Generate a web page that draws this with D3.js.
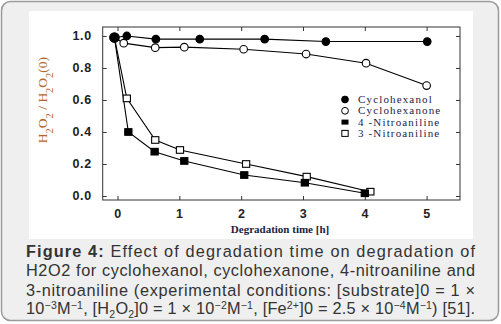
<!DOCTYPE html>
<html>
<head>
<meta charset="utf-8">
<script src="https://cdn.jsdelivr.net/npm/d3@7"></script>
<style>
    html, body { margin: 0; padding: 0; background: #fff; }
    svg { display: block; }
</style>
</head>
<body>
<div id="chart"></div>
<script>
// values (time in h, H2O2/H2O2(0))
var cyclohexanolT = [-0.05, 0.15, 0.62, 1.33, 2.38, 3.37, 5.01]
var cyclohexanolV = [0.99, 1.0, 0.98, 0.98, 0.98, 0.965, 0.965]
var cyclohexanoneT = [-0.05, 0.1, 0.61, 1.08, 2.04, 3.05, 4.02, 5.0]
var cyclohexanoneV = [0.99, 0.955, 0.927, 0.93, 0.917, 0.887, 0.83, 0.69]
var nitro4T = [-0.05, 0.175, 0.6, 1.08, 2.05, 3.03, 4.0]
var nitro4V = [0.99, 0.40, 0.277, 0.219, 0.131, 0.083, 0.017]
var nitro3T = [-0.05, 0.15, 0.61, 1.01, 2.08, 3.06, 4.09]
var nitro3V = [0.99, 0.61, 0.35, 0.2875, 0.2, 0.121, 0.027]
var seriesNames = ['Cyclohexanol', 'Cyclohexanone', '4-Nitroaniline', '3-Nitroaniline']
var xTicks = [0, 1, 2, 3, 4, 5]
var yTicks = [0.0, 0.2, 0.4, 0.6, 0.8, 1.0]

var W = 501, H = 324
var svg = d3.select('#chart').append('svg').attr('width', W).attr('height', H)

// frame
svg.append('rect').attr('x', 1.5).attr('y', 1.5).attr('width', W - 4).attr('height', H - 5)
    .attr('rx', 9).attr('fill', '#efefef').attr('stroke', '#9a9a9a').attr('stroke-width', 1.5)
svg.append('rect').attr('x', 29).attr('y', 11).attr('width', 444).attr('height', 228).attr('fill', '#fff')

var x = d3.scaleLinear().domain([-0.24, 5.54]).range([102.7, 460])
var y = d3.scaleLinear().domain([-0.025, 1.056]).range([200, 27])

var g = svg.append('g')
var axisColor = '#333'
// box
g.append('rect').attr('x', x.range()[0]).attr('y', y.range()[1])
    .attr('width', x.range()[1] - x.range()[0]).attr('height', y.range()[0] - y.range()[1])
    .attr('fill', 'none').attr('stroke', axisColor).attr('stroke-width', 1)

function tickFmt(d) { return d.toFixed(1) }
// inward ticks on all sides
g.append('g').attr('transform', 'translate(0,' + y.range()[0] + ')')
    .call(d3.axisBottom(x).tickValues(xTicks).tickSizeInner(-4).tickSizeOuter(0).tickPadding(9).tickFormat(d3.format('d')))
g.append('g').attr('transform', 'translate(0,' + y.range()[1] + ')')
    .call(d3.axisTop(x).tickValues(xTicks).tickSizeInner(-4).tickSizeOuter(0).tickFormat(''))
g.append('g').attr('transform', 'translate(' + x.range()[0] + ',0)')
    .call(d3.axisLeft(y).tickValues(yTicks).tickSizeInner(-4).tickSizeOuter(0).tickPadding(11).tickFormat(tickFmt))
g.append('g').attr('transform', 'translate(' + x.range()[1] + ',0)')
    .call(d3.axisRight(y).tickValues(yTicks).tickSizeInner(-4).tickSizeOuter(0).tickFormat(''))
g.selectAll('.domain').remove()
g.selectAll('.tick line').attr('stroke', axisColor)
g.selectAll('.tick text').attr('fill', '#222').style('font-family', 'Arial, "Liberation Sans", sans-serif')
    .style('font-size', '12.5px').style('font-weight', 'bold').style('letter-spacing', '0.6px')

// series
var series = [
    {t: cyclohexanolT, v: cyclohexanolV, shape: 'circle', fill: '#000'},
    {t: cyclohexanoneT, v: cyclohexanoneV, shape: 'circle', fill: '#fff'},
    {t: nitro4T, v: nitro4V, shape: 'square', fill: '#000'},
    {t: nitro3T, v: nitro3V, shape: 'square', fill: '#fff'}
]
var line = d3.line().x(function (d) { return x(d[0]) }).y(function (d) { return y(d[1]) })

series.forEach(function (s) {
    var pts = s.t.map(function (t, i) { return [t, s.v[i]] })
    g.append('path').datum(pts).attr('d', line).attr('fill', 'none').attr('stroke', '#000').attr('stroke-width', 1.1)
})
function drawMarker(sel, shape, fill, cx, cy, big) {
    if (shape === 'circle') {
        sel.append('circle').attr('cx', cx).attr('cy', cy).attr('r', big ? 4.8 : 3.8)
            .attr('fill', fill).attr('stroke', '#000').attr('stroke-width', 1.1)
    } else {
        sel.append('rect').attr('x', cx - 3.6).attr('y', cy - 3.3).attr('width', 7.2).attr('height', 6.6)
            .attr('fill', fill).attr('stroke', '#000').attr('stroke-width', 1.1)
    }
}
// draw markers (skip the shared start point, drawn once as a filled circle)
series.slice().reverse().forEach(function (s) {
    s.t.forEach(function (t, i) {
        if (i === 0) return
        drawMarker(g, s.shape, s.fill, x(t), y(s.v[i]))
    })
})
drawMarker(g, 'circle', '#000', x(cyclohexanolT[0]), y(cyclohexanolV[0]), true)

// legend
var legend = svg.append('g').attr('transform', 'translate(345,99.5)')
var legendShapes = [['circle', '#000'], ['circle', '#fff'], ['bar', '#000'], ['square', '#fff']]
seriesNames.forEach(function (name, i) {
    var ly = i * 11.3
    var sh = legendShapes[i]
    if (sh[0] === 'circle') {
        legend.append('circle').attr('cx', 0).attr('cy', ly).attr('r', 3.4)
            .attr('fill', sh[1]).attr('stroke', '#000').attr('stroke-width', 1)
    } else if (sh[0] === 'bar') {
        legend.append('rect').attr('x', -3.5).attr('y', ly - 2.5).attr('width', 7).attr('height', 5).attr('fill', '#000')
    } else {
        legend.append('rect').attr('x', -3.2).attr('y', ly - 3).attr('width', 6.4).attr('height', 6)
            .attr('fill', '#fff').attr('stroke', '#000').attr('stroke-width', 1)
    }
    legend.append('text').attr('x', 13).attr('y', ly + 3.6).text(name.replace('-', ' -'))
        .attr('fill', '#1c1c44').style('font-family', '"Liberation Serif", "Times New Roman", serif')
        .style('font-size', '11px').style('letter-spacing', '1.15px')
})

// axis titles
var yl = svg.append('text').attr('transform', 'translate(47,100) rotate(-90)').attr('text-anchor', 'middle')
    .attr('fill', '#b5652a').style('font-family', '"Liberation Serif", "Times New Roman", serif').style('font-size', '13.5px')
;[['H'], ['2', 'sub'], ['O'], ['2', 'sub'], [' / H'], ['2', 'sub'], ['O'], ['2', 'sub'], ['(0)']].forEach(function (p) {
    var ts = yl.append('tspan').text(p[0])
    if (p[1]) ts.attr('baseline-shift', 'sub').style('font-size', '10.5px')
})
svg.append('text').attr('x', 280).attr('y', 233).attr('text-anchor', 'middle').text('Degradation time [h]')
    .attr('fill', '#1c1c44').style('font-family', '"Liberation Serif", "Times New Roman", serif')
    .style('font-size', '11px').style('font-weight', 'bold')

// caption, justified lines
var capLines = [
    [['Figure 4:', 'b'], [' Effect of degradation time on degradation of']],
    [['H2O2 for cyclohexanol, cyclohexanone, 4-nitroaniline and']],
    [['3-nitroaniline (experimental conditions: [substrate]0 = 1 \u00d7']],
    [['10'], ['\u2212', 'sup'], ['3', 'sup'], ['M'], ['\u2212', 'sup'], ['1', 'sup'], [', [H'], ['2', 'sub'], ['O'], ['2', 'sub'],
        [']0 = 1 \u00d7 10'], ['\u2212', 'sup'], ['2', 'sup'], ['M'], ['\u2212', 'sup'], ['1', 'sup'], [', [Fe'], ['2+', 'sup'],
        [']0 = 2.5 \u00d7 10'], ['\u2212', 'sup'], ['4', 'sup'], ['M'], ['\u2212', 'sup'], ['1', 'sup'], [') [51].']]
]
var capBase = [257, 276, 295.5, 314]
capLines.forEach(function (parts, i) {
    var t = svg.append('text').attr('x', 26).attr('y', capBase[i]).attr('textLength', 449).attr('lengthAdjust', 'spacing')
        .attr('fill', '#333').style('font-family', 'Arial, "Liberation Sans", sans-serif').style('font-size', '16.3px')
    parts.forEach(function (p) {
        var ts = t.append('tspan').text(p[0])
        if (p[1] === 'b') ts.style('font-weight', 'bold')
        if (p[1] === 'sup') ts.attr('baseline-shift', '5').style('font-size', '10.5px')
        if (p[1] === 'sub') ts.attr('baseline-shift', '-4').style('font-size', '10.5px')
    })
})
</script>
</body>
</html>
